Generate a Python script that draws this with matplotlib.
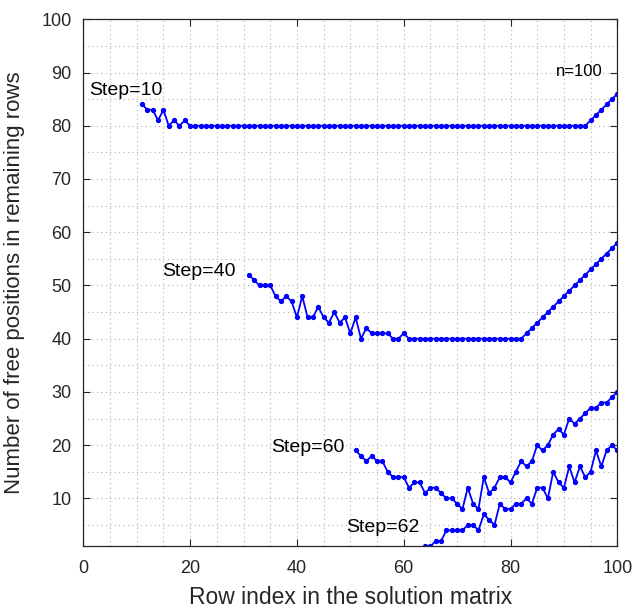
import numpy as np
import matplotlib
matplotlib.use("Agg")
import matplotlib.pyplot as plt
from matplotlib.ticker import MultipleLocator

plt.rcParams["font.family"] = ["Liberation Sans", "DejaVu Sans"]

# free positions left in the remaining rows, one series per step
rows_10 = list(range(11, 101))
free_10 = [84, 83, 83, 81, 83, 80, 81, 80, 81, 80] + [80] * 74 + [81, 82, 83, 84, 85, 86]

rows_40 = list(range(31, 101))
free_40 = [52, 51, 50, 50, 50, 48, 47, 48, 47, 44,
           48, 44, 44, 46, 44, 43, 45, 43, 44, 41,
           44, 40, 42, 41, 41, 41, 41, 40, 40, 41,
           40] + [40] * 21 + list(range(41, 59))

rows_60 = list(range(51, 101))
free_60 = [19, 18, 17, 18, 17, 17, 15, 14, 14, 14,
           12, 13, 13, 11, 12, 12, 11, 10, 10, 9,
           8, 12, 9, 8, 14, 11, 12, 14, 14, 13,
           15, 17, 16, 17, 20, 19, 20, 22, 23, 22,
           25, 24, 25, 26, 27, 27, 28, 28, 29, 30]

rows_62 = list(range(64, 101))
free_62 = [1, 1, 2, 2, 4, 4, 4, 4, 5, 5,
           4, 7, 6, 5, 9, 8, 8, 9, 9, 10,
           9, 12, 12, 10, 15, 13, 12, 16, 13, 16,
           14, 15, 19, 16, 19, 20, 19]

labels = ["Step=10", "Step=40", "Step=60", "Step=62"]
label_x = [1.0, 14.7, 35.1, 49.2]
label_y = [86.6, 52.6, 19.5, 4.5]

dark = "#262626"
fig = plt.figure(figsize=(6.33, 6.10), dpi=100)
ax = fig.add_axes([0.1316, 0.1044, 0.8436, 0.8640])

for xs, ys in [(rows_10, free_10), (rows_40, free_40), (rows_60, free_60), (rows_62, free_62)]:
    ax.plot(xs, ys, color="blue", lw=1.3, marker="o", ms=2.8, clip_on=True)

for t, x, y in zip(labels, label_x, label_y):
    ax.text(x, y, t, fontsize=14, color="black", ha="left", va="center")
ax.text(88.5, 90.1, "n=100", fontsize=12, color="black", ha="left", va="center")

ax.set_xlim(0, 100)
ax.set_ylim(1, 100)
ax.xaxis.set_major_locator(MultipleLocator(20))
ax.xaxis.set_minor_locator(MultipleLocator(5))
ax.yaxis.set_major_locator(MultipleLocator(10))
ax.yaxis.set_minor_locator(MultipleLocator(5))
ax.set_yticks(range(10, 101, 10))
ax.grid(which="both", color="#b0b0b0", ls=(0, (1, 3)), lw=0.8)
ax.tick_params(which="major", direction="in", length=5, top=True, right=True,
               labelsize=13, colors=dark, width=0.8)
ax.tick_params(axis="x", which="major", pad=10)
ax.tick_params(axis="y", which="major", pad=8.5)
ax.tick_params(which="minor", length=0, top=True, right=True)
for s in ax.spines.values():
    s.set_color(dark)
    s.set_linewidth(0.9)

ax.set_xlabel("Row index in the solution matrix", fontsize=16.5, color=dark, labelpad=6)
ax.set_ylabel("Number of free positions in remaining rows", fontsize=16, color=dark, labelpad=12)

fig.savefig("out.png", dpi=100)
